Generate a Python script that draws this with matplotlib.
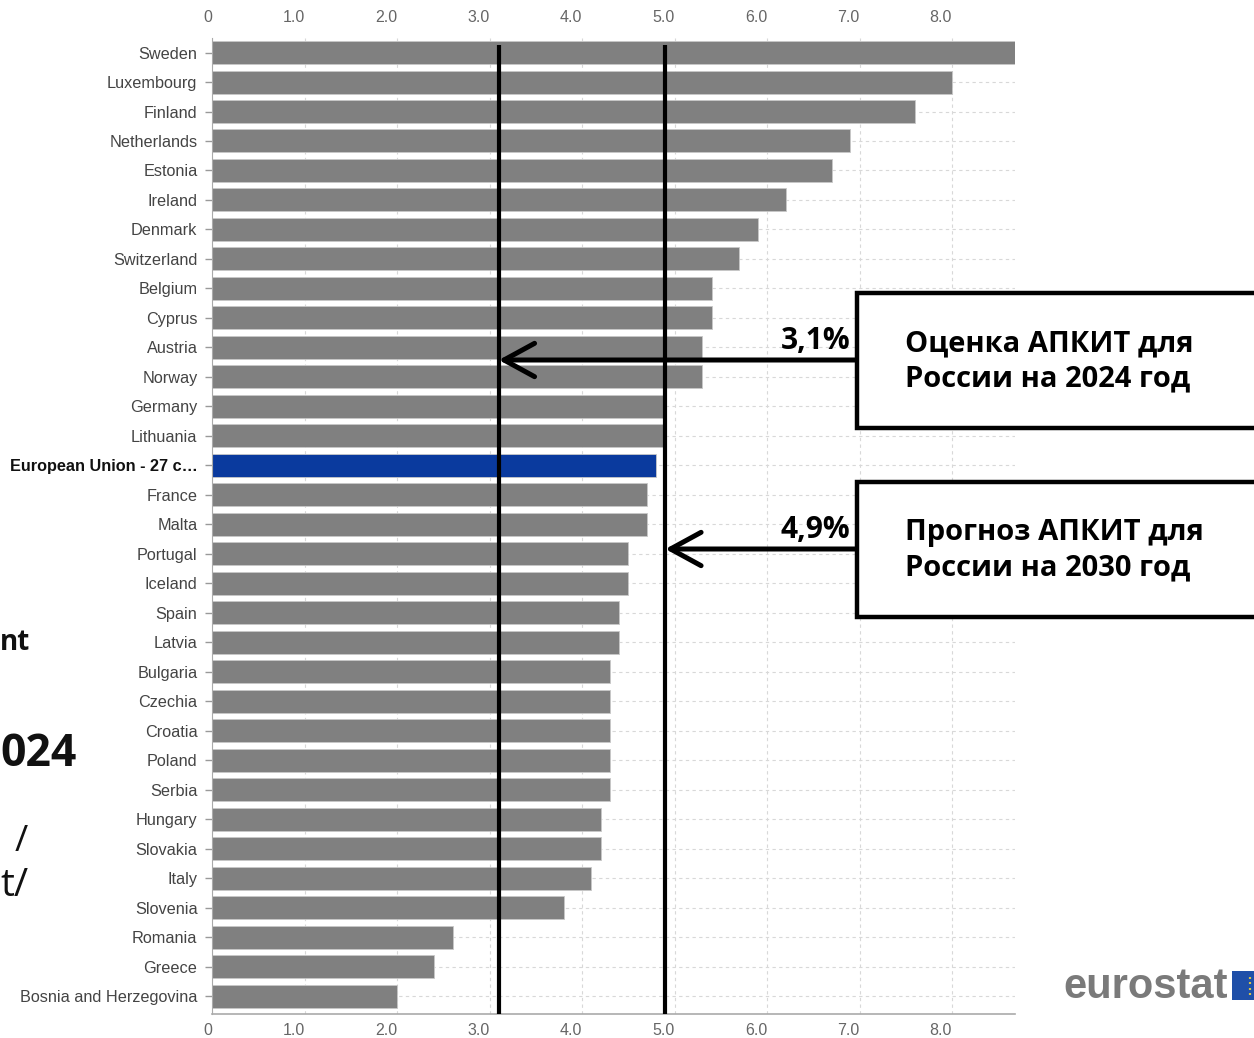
import matplotlib
matplotlib.use("Agg")
import matplotlib.pyplot as plt
from matplotlib.patches import Rectangle, Circle
from matplotlib.transforms import ScaledTranslation

# ICT share values
countries = ['Sweden', 'Luxembourg', 'Finland', 'Netherlands', 'Estonia', 'Ireland',
             'Denmark', 'Switzerland', 'Belgium', 'Cyprus', 'Austria', 'Norway',
             'Germany', 'Lithuania', 'European Union - 27 c\u2026', 'France', 'Malta',
             'Portugal', 'Iceland', 'Spain', 'Latvia', 'Bulgaria', 'Czechia', 'Croatia',
             'Poland', 'Serbia', 'Hungary', 'Slovakia', 'Italy', 'Slovenia', 'Romania',
             'Greece', 'Bosnia and Herzegovina']
values = [8.7, 8.0, 7.6, 6.9, 6.7, 6.2, 5.9, 5.7, 5.4, 5.4, 5.3, 5.3, 4.9, 4.9,
          4.8, 4.7, 4.7, 4.5, 4.5, 4.4, 4.4, 4.3, 4.3, 4.3, 4.3, 4.3, 4.2, 4.2,
          4.1, 3.8, 2.6, 2.4, 2.0]
highlight = 'European Union - 27 c\u2026'

xticks = [0, 1, 2, 3, 4, 5, 6, 7, 8]
xtick_labels = ['0', '1.0', '2.0', '3.0', '4.0', '5.0', '6.0', '7.0', '8.0']

# reference lines: estimate 2024 and forecast 2030
ref_values = [3.1, 4.9]
ref_labels = ['3,1%', '4,9%']
box_texts = ['Оценка АПКИТ для\nРоссии на 2024 год',
             'Прогноз АПКИТ для\nРоссии на 2030 год']

W, H = 1254, 1038
fig = plt.figure(figsize=(W / 100, H / 100), dpi=100)
fig.patch.set_facecolor('white')

ax = fig.add_axes([212 / W, 1 - 1013.7 / H, (1015 - 212) / W, (1013.7 - 37.8) / H])

ypos = list(range(len(countries)))
colors = ['#0a3a9e' if c == highlight else '#808080' for c in countries]
ax.barh(ypos, values, height=0.78, color=colors, edgecolor='#c8c8c8', linewidth=0.6, zorder=2)

ax.set_xlim(0, 8.68)
ax.set_ylim(32.6, -0.5)

ax.set_yticks(ypos)
ax.set_yticklabels(countries, fontsize=11.7, color='#444444', family='Liberation Sans')
for lab in ax.get_yticklabels():
    if lab.get_text() == highlight:
        lab.set_fontweight('bold')
        lab.set_color('#111111')
ax.tick_params(axis='y', length=5, width=1, color='#999999', pad=5.5)

ax.set_xticks(xticks)
ax.set_xticklabels(xtick_labels, fontsize=11.5, color='#666666', family='Liberation Sans')
ax.tick_params(axis='x', top=True, labeltop=True, bottom=True, labelbottom=True, length=0, pad=7)
up = ScaledTranslation(0, 3 / 100, fig.dpi_scale_trans)
for t in ax.xaxis.get_major_ticks():
    t.label1.set_horizontalalignment('right')
    t.label2.set_horizontalalignment('right')
    t.label2.set_transform(t.label2.get_transform() + up)

ax.grid(True, linestyle=(0, (3, 3)), color='#d8d8d8', linewidth=0.8, zorder=0)
ax.set_axisbelow(True)
for s in ['top', 'right']:
    ax.spines[s].set_visible(False)
ax.spines['left'].set_color('#aaaaaa')
ax.spines['bottom'].set_color('#aaaaaa')
ax.spines['bottom'].set_linewidth(1.2)

# black reference lines
for v in ref_values:
    ax.plot([v, v], [-0.25, 32.6], color='black', lw=3, zorder=4, solid_capstyle='butt')

# callout boxes with arrows
box_tops = [293, 482]
box_bottoms = [428, 617]
arrow_y = [360, 549]
for v, lab, txt, top, bot, ay in zip(ref_values, ref_labels, box_texts, box_tops, box_bottoms, arrow_y):
    rect = Rectangle((857 / W, 1 - bot / H), 0.5, (bot - top) / H, transform=fig.transFigure,
                     facecolor='white', edgecolor='black', lw=3.2, zorder=10)
    fig.add_artist(rect)
    ax.annotate('', xy=(v, 1 - ay / H), xycoords=('data', 'figure fraction'),
                xytext=(857 / W, 1 - ay / H), textcoords='figure fraction',
                arrowprops=dict(arrowstyle='->,head_length=1.1,head_width=0.6', lw=3.6,
                                color='black', shrinkA=0, shrinkB=0, mutation_scale=20),
                zorder=6)
    fig.text(850 / W, 1 - (ay - 19) / H, lab, ha='right', va='center', fontsize=21.5,
             fontweight='bold', family=['Open Sans', 'DejaVu Sans'], zorder=11)
    fig.text(905 / W, 1 - ((top + bot) / 2 + 1) / H, txt, ha='left', va='center', fontsize=21,
             fontweight='bold', family=['Open Sans', 'DejaVu Sans'], linespacing=1.28, zorder=11)

# leftover text from the slide behind the chart
fig.text(0, 1 - 643 / H, 'nt', ha='left', va='center', fontsize=20, fontweight='bold',
         family='Open Sans', color='#111111')
fig.text(0, 1 - 755 / H, '024', ha='left', va='center', fontsize=32, fontweight='bold',
         family='Open Sans', color='#111111')
fig.text(15 / W, 1 - 842 / H, '/', ha='left', va='center', fontsize=26,
         family='Open Sans', color='#111111')
fig.text(0, 1 - 886 / H, 't/', ha='left', va='center', fontsize=28,
         family='Open Sans', color='#111111')

# eurostat logo
fig.text(1228 / W, 1 - 987 / H, 'eurostat', ha='right', va='center', fontsize=30,
         fontweight='bold', family='Liberation Sans', color='#7a7a7a')
fig.add_artist(Rectangle((1232 / W, 1 - 1000 / H), 0.05, 29 / H, transform=fig.transFigure,
                         facecolor='#1f4fa8', edgecolor='none'))
for dy in [-8, -3, 3, 8]:
    fig.add_artist(Circle((1250 / W, 1 - (986 + dy) / H), 1.2 / W, transform=fig.transFigure,
                          facecolor='#f3d33c', edgecolor='none'))

fig.savefig('out.png', dpi=100, facecolor='white')
